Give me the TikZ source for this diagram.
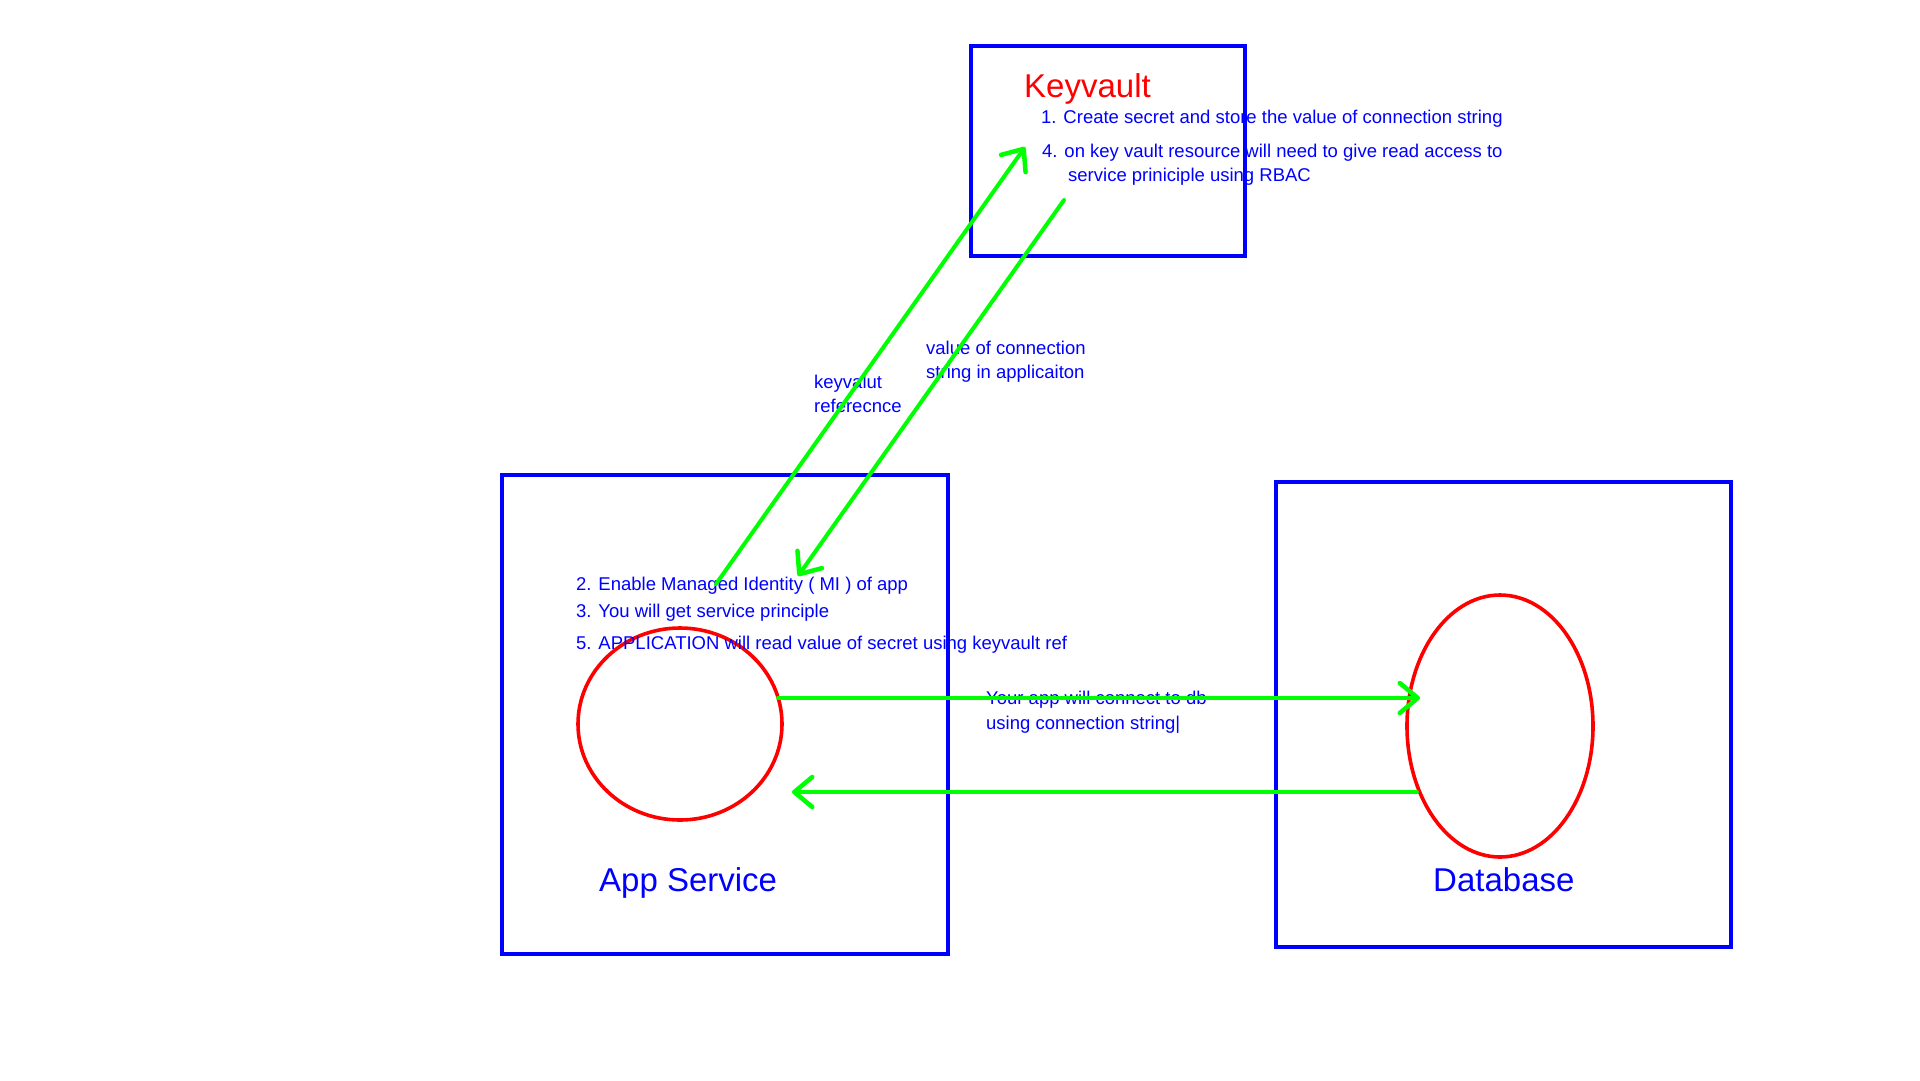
\documentclass[tikz,border=0pt]{standalone}
\usepackage{fontspec}
\setmainfont{Liberation Sans}
\usetikzlibrary{arrows.meta,shapes.geometric}
\definecolor{bblue}{RGB}{0,0,255}
\definecolor{rred}{RGB}{255,0,0}
\definecolor{ggreen}{RGB}{0,255,0}
\tikzset{
  box/.style={draw=bblue, line width=4pt, minimum width=#1, inner sep=0pt, rectangle},
  ring/.style={draw=rred, line width=3.6pt, ellipse, inner sep=0pt},
  small/.style={text=bblue, font=\fontsize{18.5}{22}\selectfont, inner sep=0pt, anchor=base west, align=left},
  big/.style={font=\fontsize{33}{38}\selectfont, inner sep=0pt, anchor=base west},
  flow/.style={draw=ggreen, line width=4pt, line cap=round, -{Straight Barb[length=18pt, width=30pt, line width=4.5pt, round]}},
}
\begin{document}
\begin{tikzpicture}[x=1pt, y=-1pt]
\useasboundingbox (0,0) rectangle (1920,1080);
\fill[white] (0,0) rectangle (1920,1080);
% boxes
\node[box=274pt, minimum height=210pt] (kv) at (1108,151) {};
\node[box=446pt, minimum height=479pt] (app) at (725,714.5) {};
\node[box=455pt, minimum height=465pt] (db) at (1503.5,714.5) {};
% ellipses
\node[ring, minimum width=204pt, minimum height=192pt] (appc) at (680,724) {};
\node[ring, minimum width=186pt, minimum height=262pt] (dbc) at (1500,726) {};
% titles
\node[big, text=rred] (kvt) at (1024,97) {Keyvault};
\node[big, text=bblue] (appt) at (599,891) {App Service};
\node[big, text=bblue] (dbt) at (1433,891) {Database};
% keyvault notes
\node[small] (n1) at (1041,123) {1. Create secret and store the value of connection string};
\node[small] (n4) at (1042,157) {4. on key vault resource will need to give read access to};
\node[small] (n4b) at (1068,181) {service priniciple using RBAC};
% app notes
\node[small] (n2) at (576,590) {2. Enable Managed Identity ( MI ) of app};
\node[small] (n3) at (576,617) {3. You will get service principle};
\node[small] (n5) at (576,649) {5. APPLICATION will read value of secret using keyvault ref};
% arrow labels
\node[small] (l1) at (814,388) {keyvalut};
\node[small] (l1b) at (814,412) {referecnce};
\node[small] (l2) at (926,354) {value of connection};
\node[small] (l2b) at (926,378) {string in applicaiton};
\node[small] (l3) at (986,704) {Your app will connect to db};
\node[small] (l3b) at (986,729) {using connection string|};
% connector ends
\coordinate (a1s) at (716,584);
\coordinate (a1e) at (1025,147);
\coordinate (a2s) at (1064,200);
\coordinate (a2e) at (798,576);
\coordinate (a3s) at (778,698);
\coordinate (a3e) at (1420,698);
\coordinate (a4s) at (1417,792);
\coordinate (a4e) at (792,792);
\draw[flow] (a1s) -- (a1e);
\draw[flow] (a2s) -- (a2e);
\draw[flow] (a3s) -- (a3e);
\draw[flow] (a4s) -- (a4e);
\end{tikzpicture}
\end{document}
